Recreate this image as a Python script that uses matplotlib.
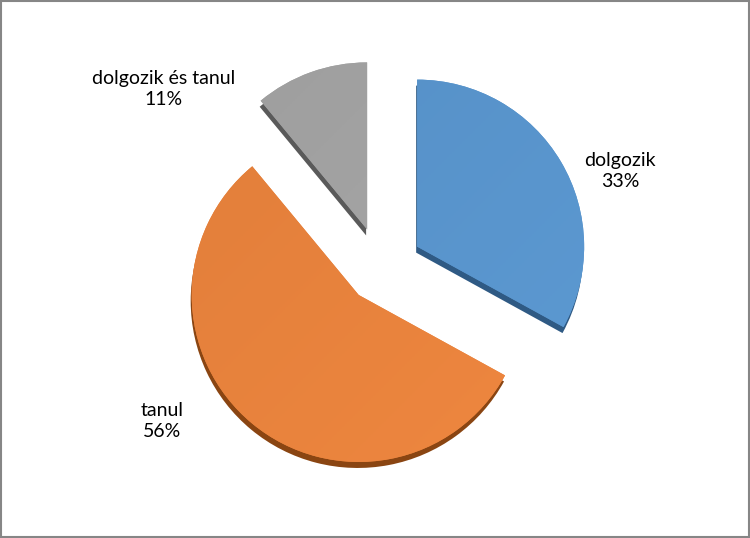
import matplotlib.pyplot as plt
import numpy as np
from matplotlib.colors import LinearSegmentedColormap, to_rgb

# adatok
labels = ['dolgozik', 'tanul', 'dolgozik és tanul']
values = [33, 56, 11]
colors = ['#5894cc', '#e8823c', '#a3a3a3']
side_colors = ['#2f5a84', '#8a4512', '#5a5a5a']
explode = [42, 35, 41]   # matplotlib: eltolás adategységben

W, H = 750, 538
cx, cy = 381, H - 268
r = 167
depth = 6

fig = plt.figure(figsize=(7.5, 5.38), dpi=100)
ax = fig.add_axes([0, 0, 1, 1])

# oldalsó (3D) rész
ax.pie(values, colors=side_colors, explode=explode, startangle=90,
       counterclock=False, radius=r, center=(cx - 1, cy - depth),
       frame=True, wedgeprops=dict(linewidth=0))

# felső rész
wedges, _ = ax.pie(values, colors=colors, explode=explode, startangle=90,
                   counterclock=False, radius=r, center=(cx, cy),
                   frame=True, wedgeprops=dict(linewidth=0))

# enyhe színátmenet a fényhatáshoz
yy, xx = np.mgrid[0:1:200j, 0:1:200j]
grad = (xx + (1 - yy)) / 2
for w, c in zip(wedges, colors):
    base = np.array(to_rgb(c))
    light = np.clip(base * 1.03 + 0.01, 0, 1)
    dark = base * 0.96
    cmap = LinearSegmentedColormap.from_list('g', [dark, light])
    im = ax.imshow(grad, cmap=cmap, extent=(cx - 260, cx + 260, cy - 260, cy + 260),
                   origin='lower', zorder=w.get_zorder() + 0.1)
    im.set_clip_path(w)

ax.set_xlim(0, W)
ax.set_ylim(0, H)
ax.set_aspect('equal')
ax.axis('off')

font = dict(family=['Lato', 'DejaVu Sans'], size=14, color='#000000',
            ha='center', va='center', linespacing=1.35)
label_pos = [(620, H - 171), (162, H - 421), (164, H - 89)]
for name, v, (lx, ly) in zip(labels, values, label_pos):
    ax.text(lx, ly, f'{name}\n{v}%', **font)

# keret
fig.patches.append(plt.Rectangle((0.001, 0.001), 0.997, 0.997, transform=fig.transFigure,
                                 fill=False, edgecolor='#868686', linewidth=1.5))

fig.savefig('out.png', dpi=100, facecolor='white')
